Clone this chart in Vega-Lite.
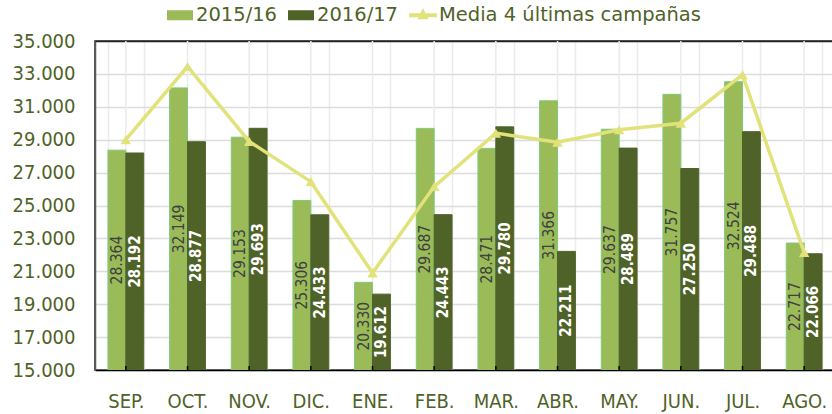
{
  "$schema": "https://vega.github.io/schema/vega-lite/v6.json",
  "width": 740,
  "height": 329,
  "autosize": "none",
  "padding": {"left": 95, "top": 41, "right": 0, "bottom": 44},
  "background": "white",
  "config": {
    "locale": {"number": {"decimal": ",", "thousands": ".", "grouping": [3], "currency": ["", " €"]}},
    "font": "DejaVu Sans Condensed",
    "view": {"stroke": "#222222", "strokeWidth": 1.5}
  },
  "datasets": {
    "bars": [
      {"mes": "SEP.", "serie": "2015/16", "valor": 28364},
      {"mes": "OCT.", "serie": "2015/16", "valor": 32149},
      {"mes": "NOV.", "serie": "2015/16", "valor": 29153},
      {"mes": "DIC.", "serie": "2015/16", "valor": 25306},
      {"mes": "ENE.", "serie": "2015/16", "valor": 20330},
      {"mes": "FEB.", "serie": "2015/16", "valor": 29687},
      {"mes": "MAR.", "serie": "2015/16", "valor": 28471},
      {"mes": "ABR.", "serie": "2015/16", "valor": 31366},
      {"mes": "MAY.", "serie": "2015/16", "valor": 29637},
      {"mes": "JUN.", "serie": "2015/16", "valor": 31757},
      {"mes": "JUL.", "serie": "2015/16", "valor": 32524},
      {"mes": "AGO.", "serie": "2015/16", "valor": 22717},
      {"mes": "SEP.", "serie": "2016/17", "valor": 28192},
      {"mes": "OCT.", "serie": "2016/17", "valor": 28877},
      {"mes": "NOV.", "serie": "2016/17", "valor": 29693},
      {"mes": "DIC.", "serie": "2016/17", "valor": 24433},
      {"mes": "ENE.", "serie": "2016/17", "valor": 19612},
      {"mes": "FEB.", "serie": "2016/17", "valor": 24443},
      {"mes": "MAR.", "serie": "2016/17", "valor": 29780},
      {"mes": "ABR.", "serie": "2016/17", "valor": 22211},
      {"mes": "MAY.", "serie": "2016/17", "valor": 28489},
      {"mes": "JUN.", "serie": "2016/17", "valor": 27250},
      {"mes": "JUL.", "serie": "2016/17", "valor": 29488},
      {"mes": "AGO.", "serie": "2016/17", "valor": 22066}
    ],
    "media": [
      {"mes": "SEP.", "serie": "Media 4 últimas campañas", "valor": 29000},
      {"mes": "OCT.", "serie": "Media 4 últimas campañas", "valor": 33450},
      {"mes": "NOV.", "serie": "Media 4 últimas campañas", "valor": 28900},
      {"mes": "DIC.", "serie": "Media 4 últimas campañas", "valor": 26450},
      {"mes": "ENE.", "serie": "Media 4 últimas campañas", "valor": 20900},
      {"mes": "FEB.", "serie": "Media 4 últimas campañas", "valor": 26150},
      {"mes": "MAR.", "serie": "Media 4 últimas campañas", "valor": 29400},
      {"mes": "ABR.", "serie": "Media 4 últimas campañas", "valor": 28850},
      {"mes": "MAY.", "serie": "Media 4 últimas campañas", "valor": 29600},
      {"mes": "JUN.", "serie": "Media 4 últimas campañas", "valor": 30000},
      {"mes": "JUL.", "serie": "Media 4 últimas campañas", "valor": 32950},
      {"mes": "AGO.", "serie": "Media 4 últimas campañas", "valor": 22150}
    ]
  },
  "encoding": {
    "x": {
      "field": "mes", "type": "nominal",
      "sort": ["SEP.", "OCT.", "NOV.", "DIC.", "ENE.", "FEB.", "MAR.", "ABR.", "MAY.", "JUN.", "JUL.", "AGO."],
      "scale": {"paddingInner": 0.42, "paddingOuter": 0.21},
      "axis": {
        "title": null, "labelAngle": 0, "labelFontSize": 20, "labelColor": "#4F6228",
        "labelPadding": 21, "ticks": false,
        "domainColor": "#000000", "domainWidth": 1.5,
        "grid": true, "gridColor": "#EBEBEB", "gridWidth": 1.5, "tickBand": "extent"
      }
    },
    "y": {
      "field": "valor", "type": "quantitative",
      "scale": {"domain": [15000, 35000], "zero": false, "nice": false},
      "axis": {
        "title": null, "values": [15000, 17000, 19000, 21000, 23000, 25000, 27000, 29000, 31000, 33000, 35000],
        "format": ",d", "labelFontSize": 20, "labelColor": "#4F6228", "ticks": false,
        "labelPadding": 20, "domainColor": "#595959", "domainWidth": 1.5,
        "grid": true,
        "gridColor": {"condition": {"test": "datum.value == 35000", "value": "#222222"}, "value": "#DCDCDC"},
        "gridWidth": 1.5
      }
    }
  },
  "layer": [
    {
      "data": {"name": "media"},
      "mark": {"type": "rule", "color": "#EBEBEB", "strokeWidth": 1.5},
      "encoding": {
        "y": null
      }
    },
    {
      "data": {"name": "bars"},
      "mark": {"type": "bar", "strokeWidth": 1, "clip": true},
      "encoding": {
        "xOffset": {"field": "serie", "sort": ["2015/16", "2016/17"], "scale": {"paddingInner": 0}},
        "color": {
          "field": "serie", "type": "nominal",
          "scale": {"domain": ["2015/16", "2016/17", "Media 4 últimas campañas"], "range": ["#9BBB59", "#4F6228", "#E2E27A"]},
          "legend": {
            "title": null, "orient": "none", "legendX": 72, "legendY": -39, "direction": "horizontal",
            "labelFont": "DejaVu Sans", "labelFontSize": 19.5, "labelColor": "#4F6228", "labelLimit": 500,
            "symbolSize": 676, "labelOffset": 3, "columnPadding": 10,
            "encode": {
              "symbols": {
                "update": {
                  "shape": {"signal": "datum.value == 'Media 4 últimas campañas' ? 'M-1.07,-0.15H1.07V0.15H-1.07Z M0,-0.55L0.42,0.3H-0.42Z' : 'M-1,-0.385H1V0.385H-1Z'"},
                  "fill": {"scale": "color", "field": "value"},
                  "strokeWidth": {"value": 0},
                  "opacity": {"value": 1},
                  "fillOpacity": {"value": 1}
                }
              }
            }
          }
        },
        "stroke": {
          "field": "serie", "type": "nominal",
          "scale": {"domain": ["2015/16", "2016/17"], "range": ["#7ACC7A", "#4F6228"]},
          "legend": null
        }
      }
    },
    {
      "data": {"name": "bars"},
      "transform": [
        {"filter": "datum.serie == '2015/16'"},
        {"calculate": "(datum.valor + 15000) / 2", "as": "medio"}
      ],
      "mark": {"type": "text", "angle": 270, "align": "center", "baseline": "middle", "fontSize": 15.5, "color": "#404040"},
      "encoding": {
        "xOffset": {"field": "serie", "sort": ["2015/16", "2016/17"], "scale": {"domain": ["2015/16", "2016/17"]}},
        "y": {"field": "medio", "type": "quantitative"},
        "text": {"field": "valor", "type": "quantitative", "format": ",d"}
      }
    },
    {
      "data": {"name": "bars"},
      "transform": [
        {"filter": "datum.serie == '2016/17'"},
        {"calculate": "(datum.valor + 15000) / 2", "as": "medio"}
      ],
      "mark": {"type": "text", "angle": 270, "align": "center", "baseline": "middle", "fontSize": 15, "fontWeight": "bold", "color": "#FFFFFF"},
      "encoding": {
        "xOffset": {"field": "serie", "sort": ["2015/16", "2016/17"], "scale": {"domain": ["2015/16", "2016/17"]}},
        "y": {"field": "medio", "type": "quantitative"},
        "text": {"field": "valor", "type": "quantitative", "format": ",d"}
      }
    },
    {
      "data": {"name": "media"},
      "mark": {"type": "rule", "color": "#000000", "strokeWidth": 1.5},
      "encoding": {
        "y": {"datum": 15000},
        "y2": {"datum": 15250}
      }
    },
    {
      "data": {"name": "media"},
      "mark": {"type": "line", "strokeWidth": 3.5},
      "encoding": {
        "color": {"field": "serie", "type": "nominal"}
      }
    },
    {
      "data": {"name": "media"},
      "mark": {"type": "point", "shape": "triangle-up", "filled": true, "size": 110, "opacity": 1},
      "encoding": {
        "color": {"field": "serie", "type": "nominal"}
      }
    }
  ]
}
